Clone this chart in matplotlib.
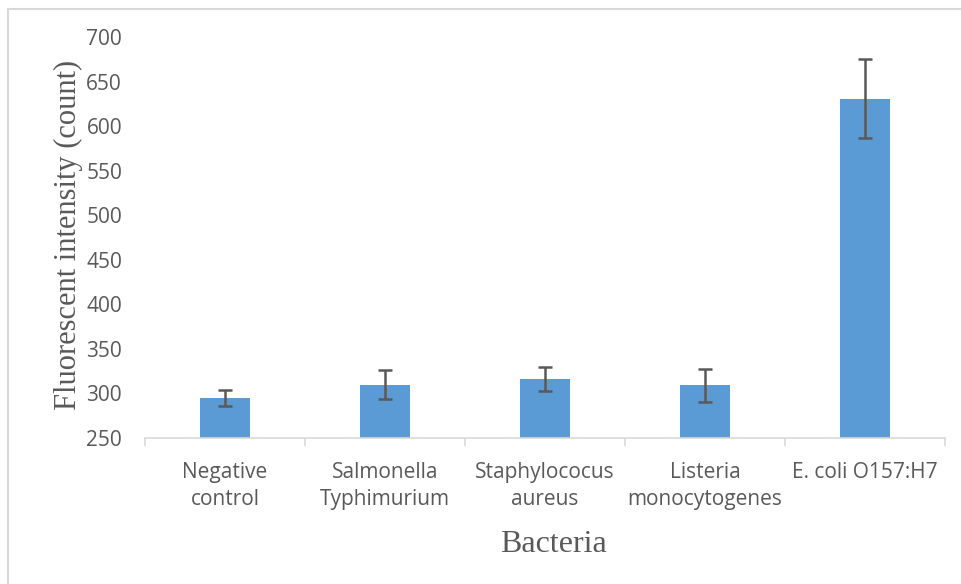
import numpy as np
import matplotlib.pyplot as plt
from matplotlib.patches import Rectangle

categories = ["Negative\ncontrol", "Salmonella\nTyphimurium", "Staphylococus\naureus",
              "Listeria\nmonocytogenes", "E. coli O157:H7"]
values = [295, 310, 316, 309, 631]
errors = [9, 16, 13.5, 18.5, 44]
yticks = [250, 300, 350, 400, 450, 500, 550, 600, 650, 700]

fig = plt.figure(figsize=(9.61, 5.84), dpi=100)
ax = fig.add_axes([0.1509, 0.25, 0.8325, 0.6866])

x = np.arange(len(categories))
ax.bar(x, values, width=0.31, color="#5B9BD5", zorder=2)
ax.errorbar(x, values, yerr=errors, fmt="none", ecolor="#595959",
            elinewidth=1.8, capsize=5, capthick=1.8, zorder=3)

ax.set_xlim(-0.5, len(categories) - 0.5)
ax.set_ylim(250, 700)
ax.set_yticks(yticks)
ax.set_xticks(x)
ax.set_xticklabels(categories, fontfamily="Open Sans", fontsize=15, color="#595959",
                   linespacing=1.4)
ax.set_xticks(np.arange(-0.5, len(categories), 1.0), minor=True)
ax.tick_params(axis="x", which="major", length=0, pad=17)
ax.tick_params(axis="x", which="minor", length=6, color="#D9D9D9", width=1.2)
ax.tick_params(axis="y", length=0, pad=16.5)
for lab in ax.get_yticklabels():
    lab.set_fontfamily("Open Sans")
    lab.set_fontsize(15)
    lab.set_color("#595959")

for s in ["top", "right", "left"]:
    ax.spines[s].set_visible(False)
ax.spines["bottom"].set_color("#D9D9D9")
ax.spines["bottom"].set_linewidth(1.2)

fig.text(553 / 961, 1 - 552 / 584, "Bacteria", fontfamily="Liberation Serif",
         fontsize=23, color="#595959", ha="center", va="baseline")
fig.text(68 / 961, 1 - 235 / 584, "Fluorescent intensity (count)",
         fontfamily="Liberation Serif", fontsize=22, color="#595959",
         rotation=90, ha="center", va="center")

# chart border (only top/left edges fall inside the image)
fig.patches.append(Rectangle((8 / 961, -0.1), 1.2, 1.1 - 9 / 584,
                             transform=fig.transFigure, fill=False,
                             edgecolor="#D9D9D9", linewidth=1.5))

fig.savefig("out.png", dpi=100)
